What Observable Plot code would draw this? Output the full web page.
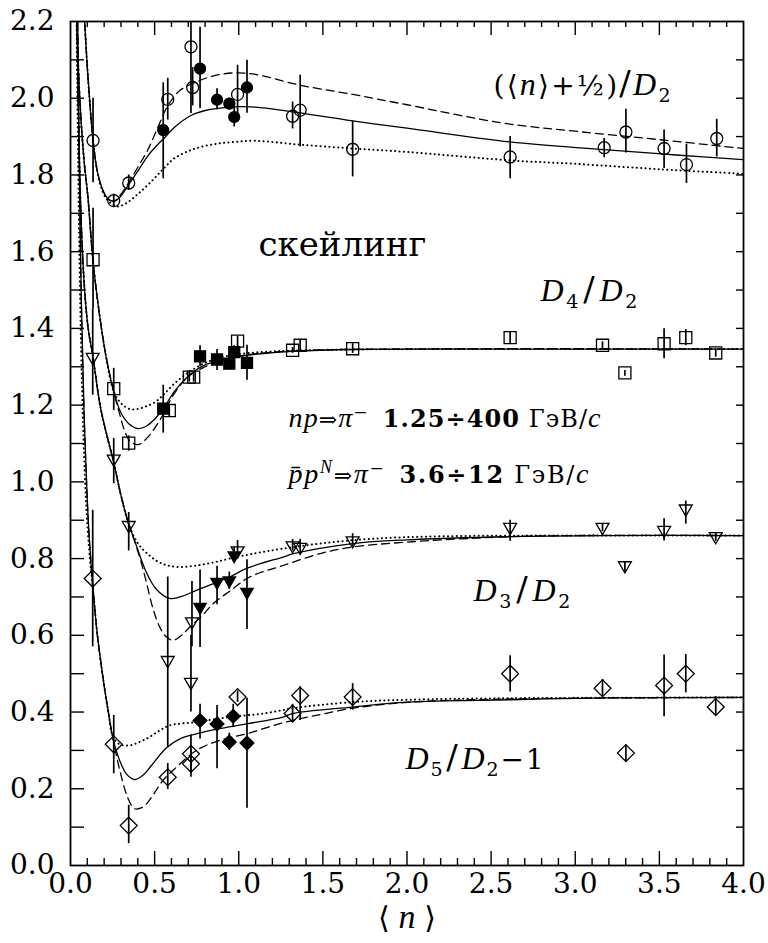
<!DOCTYPE html>
<html>
<head>
<meta charset="utf-8">
<script src="https://cdn.jsdelivr.net/npm/d3@7"></script>
<script src="https://cdn.jsdelivr.net/npm/@observablehq/plot@0.6"></script>
<style>
  body { margin: 0; background: #fff; }
  #chart svg { display: block; }
  #chart svg text { font-family: "DejaVu Serif", serif; }
</style>
</head>
<body>
<div id="chart"></div>
<script>
// Measured ratios versus mean multiplicity <n>: [<n>, value, low, high]
// (<n>+1/2)/D2
const circlesOpen = [
  [0.134, 1.890, 1.780, 2.000], [0.257, 1.733, 1.715, 1.750], [0.346, 1.779, 1.760, 1.800],
  [0.578, 1.997, 1.943, 2.052], [0.716, 2.134, 1.960, 2.300], [0.726, 2.028, 1.980, 2.080],
  [0.993, 2.010, 1.956, 2.086], [1.320, 1.953, 1.920, 1.990], [1.365, 1.969, 1.873, 2.060],
  [1.677, 1.867, 1.795, 1.940], [2.613, 1.847, 1.790, 1.900], [3.172, 1.871, 1.845, 1.895],
  [3.301, 1.912, 1.857, 1.971], [3.528, 1.869, 1.817, 1.917], [3.661, 1.827, 1.778, 1.880],
  [3.841, 1.895, 1.847, 1.945]
];
const circlesFilled = [
  [0.551, 1.917, 1.790, 2.040], [0.770, 2.077, 1.973, 2.185], [0.871, 1.996, 1.970, 2.025],
  [0.944, 1.986, 1.970, 2.000], [0.973, 1.951, 1.925, 1.980], [1.049, 2.028, 1.961, 2.099]
];
// D4/D2
const squaresOpen = [
  [0.134, 1.579, 1.450, 1.713], [0.257, 1.243, 1.186, 1.296], [0.346, 1.101, 1.080, 1.120],
  [0.587, 1.186, 1.170, 1.200], [0.706, 1.273, 1.260, 1.285], [0.732, 1.273, 1.260, 1.285],
  [0.993, 1.367, 1.350, 1.380], [1.320, 1.343, 1.335, 1.350], [1.365, 1.356, 1.340, 1.370],
  [1.677, 1.347, 1.335, 1.360], [2.613, 1.376, 1.360, 1.390], [3.162, 1.356, 1.345, 1.365],
  [3.295, 1.284, 1.275, 1.290], [3.528, 1.360, 1.321, 1.399], [3.657, 1.376, 1.355, 1.397],
  [3.835, 1.336, 1.325, 1.345]
];
const squaresFilled = [
  [0.551, 1.191, 1.127, 1.252], [0.770, 1.327, 1.300, 1.355], [0.871, 1.319, 1.290, 1.345],
  [0.944, 1.308, 1.295, 1.320], [0.973, 1.338, 1.320, 1.355], [1.049, 1.310, 1.265, 1.356]
];
// D3/D2
const trianglesOpen = [
  [0.132, 1.325, 1.226, 1.450], [0.257, 1.060, 0.995, 1.113], [0.346, 0.887, 0.820, 0.920],
  [0.578, 0.535, 0.308, 0.752], [0.722, 0.636, 0.570, 0.740], [0.716, 0.478, 0.400, 0.600],
  [0.993, 0.821, 0.800, 0.847], [1.320, 0.834, 0.820, 0.850], [1.365, 0.830, 0.810, 0.850],
  [1.677, 0.847, 0.830, 0.865], [2.613, 0.882, 0.845, 0.900], [3.162, 0.882, 0.870, 0.890],
  [3.295, 0.782, 0.765, 0.790], [3.528, 0.874, 0.846, 0.904], [3.657, 0.930, 0.890, 0.950],
  [3.835, 0.858, 0.845, 0.868]
];
const trianglesFilled = [
  [0.770, 0.674, 0.568, 0.770], [0.871, 0.739, 0.680, 0.780], [0.944, 0.743, 0.720, 0.765],
  [0.973, 0.808, 0.790, 0.830], [1.049, 0.713, 0.615, 0.797]
];
// D5/D2 - 1
const diamondsOpen = [
  [0.132, 0.748, 0.570, 0.926], [0.257, 0.316, 0.239, 0.391], [0.346, 0.104, 0.057, 0.157],
  [0.578, 0.230, 0.198, 0.266], [0.716, 0.291, 0.240, 0.340], [0.716, 0.265, 0.230, 0.300],
  [0.993, 0.439, 0.425, 0.455], [1.320, 0.396, 0.375, 0.420], [1.365, 0.443, 0.378, 0.466],
  [1.677, 0.439, 0.405, 0.474], [2.613, 0.500, 0.452, 0.547], [3.162, 0.462, 0.440, 0.485],
  [3.301, 0.293, 0.270, 0.315], [3.528, 0.469, 0.388, 0.549], [3.657, 0.500, 0.450, 0.550],
  [3.835, 0.413, 0.390, 0.440]
];
const diamondsFilled = [
  [0.770, 0.378, 0.330, 0.420], [0.871, 0.369, 0.252, 0.417], [0.944, 0.322, 0.300, 0.345],
  [0.967, 0.389, 0.360, 0.420], [1.049, 0.319, 0.149, 0.436]
];

// Model curves: [<n>, value]
const c1Solid = [[0.084,2.20],[0.100,2.08],[0.118,1.97],[0.134,1.89],[0.155,1.82],[0.180,1.775],[0.210,1.745],[0.240,1.733],[0.265,1.732],[0.300,1.745],[0.346,1.775],[0.400,1.81],[0.460,1.85],[0.520,1.88],[0.551,1.893],[0.620,1.925],[0.716,1.955],[0.800,1.968],[0.900,1.975],[1.000,1.978],[1.100,1.977],[1.300,1.966],[1.677,1.941],[2.000,1.922],[2.613,1.886],[3.170,1.866],[3.600,1.852],[4.000,1.840]];
const c1Dashed = [[0.084,2.20],[0.100,2.08],[0.118,1.97],[0.134,1.89],[0.155,1.82],[0.180,1.775],[0.210,1.745],[0.240,1.733],[0.265,1.733],[0.300,1.75],[0.346,1.78],[0.400,1.82],[0.459,1.865],[0.520,1.925],[0.578,1.98],[0.650,2.02],[0.734,2.04],[0.850,2.058],[0.972,2.066],[1.100,2.062],[1.365,2.034],[1.677,2.010],[2.000,1.983],[2.558,1.936],[3.000,1.914],[3.500,1.892],[4.000,1.869]];
const c1Dotted = [[0.084,2.20],[0.100,2.08],[0.118,1.97],[0.134,1.89],[0.155,1.82],[0.180,1.77],[0.210,1.74],[0.240,1.726],[0.280,1.718],[0.330,1.726],[0.400,1.75],[0.478,1.782],[0.550,1.815],[0.616,1.843],[0.700,1.862],[0.775,1.873],[0.880,1.882],[0.972,1.886],[1.100,1.889],[1.365,1.879],[1.677,1.869],[2.000,1.860],[2.613,1.838],[3.000,1.829],[3.500,1.815],[4.000,1.803]];

const c2Solid = [[0.038,2.20],[0.055,2.00],[0.080,1.84],[0.104,1.74],[0.134,1.575],[0.173,1.434],[0.210,1.33],[0.257,1.235],[0.300,1.18],[0.350,1.15],[0.400,1.139],[0.450,1.145],[0.500,1.163],[0.551,1.19],[0.620,1.237],[0.716,1.282],[0.800,1.305],[0.894,1.317],[1.000,1.327],[1.132,1.334],[1.320,1.340],[1.677,1.345],[2.500,1.346],[4.000,1.346]];
const c2Dashed = [[0.038,2.20],[0.055,2.00],[0.080,1.84],[0.104,1.74],[0.134,1.575],[0.173,1.434],[0.210,1.33],[0.257,1.235],[0.290,1.18],[0.320,1.135],[0.350,1.108],[0.400,1.097],[0.450,1.112],[0.530,1.16],[0.617,1.23],[0.696,1.273],[0.800,1.30],[0.900,1.318],[1.000,1.328],[1.200,1.338],[1.600,1.345],[4.000,1.346]];
const c2Dotted = [[0.038,2.20],[0.055,2.00],[0.080,1.84],[0.104,1.74],[0.134,1.575],[0.173,1.434],[0.210,1.33],[0.257,1.235],[0.300,1.205],[0.350,1.19],[0.400,1.19],[0.450,1.197],[0.500,1.207],[0.550,1.226],[0.617,1.256],[0.700,1.285],[0.800,1.31],[0.900,1.325],[1.000,1.333],[1.200,1.34],[1.500,1.344],[2.000,1.346],[4.000,1.346]];

const c3Solid = [[0.038,2.20],[0.050,1.90],[0.065,1.66],[0.084,1.50],[0.105,1.40],[0.134,1.325],[0.180,1.19],[0.257,1.05],[0.300,0.965],[0.346,0.89],[0.381,0.847],[0.450,0.765],[0.510,0.72],[0.589,0.696],[0.650,0.70],[0.748,0.717],[0.850,0.735],[0.946,0.752],[1.050,0.775],[1.263,0.804],[1.320,0.812],[1.677,0.839],[2.000,0.849],[2.613,0.857],[3.200,0.860],[4.000,0.860]];
const c3Dashed = [[0.038,2.20],[0.050,1.90],[0.065,1.66],[0.084,1.50],[0.105,1.40],[0.134,1.325],[0.180,1.19],[0.257,1.05],[0.300,0.965],[0.346,0.89],[0.381,0.845],[0.420,0.79],[0.450,0.74],[0.490,0.67],[0.530,0.622],[0.569,0.596],[0.609,0.587],[0.660,0.60],[0.708,0.621],[0.780,0.65],[0.847,0.682],[0.946,0.715],[1.065,0.752],[1.263,0.782],[1.500,0.815],[1.677,0.83],[2.000,0.843],[2.600,0.857],[3.000,0.860],[4.000,0.860]];
const c3Dotted = [[0.038,2.20],[0.050,1.90],[0.065,1.66],[0.084,1.50],[0.105,1.40],[0.134,1.325],[0.180,1.19],[0.257,1.05],[0.300,0.965],[0.346,0.89],[0.400,0.84],[0.459,0.812],[0.520,0.792],[0.578,0.782],[0.650,0.778],[0.748,0.782],[0.850,0.79],[0.946,0.80],[1.100,0.814],[1.263,0.826],[1.500,0.84],[1.800,0.852],[2.200,0.858],[2.800,0.860],[4.000,0.860]];

const c4Solid = [[0.043,2.20],[0.050,1.90],[0.064,1.48],[0.080,1.19],[0.100,0.95],[0.115,0.83],[0.134,0.72],[0.160,0.60],[0.193,0.49],[0.225,0.40],[0.253,0.33],[0.292,0.274],[0.332,0.239],[0.381,0.224],[0.430,0.235],[0.480,0.26],[0.569,0.306],[0.650,0.33],[0.748,0.343],[0.875,0.356],[1.045,0.369],[1.263,0.387],[1.320,0.396],[1.677,0.413],[2.000,0.426],[2.613,0.432],[3.200,0.437],[4.000,0.438]];
const c4Dashed = [[0.043,2.20],[0.050,1.90],[0.064,1.48],[0.080,1.19],[0.100,0.95],[0.115,0.83],[0.134,0.72],[0.160,0.60],[0.193,0.49],[0.225,0.40],[0.253,0.33],[0.292,0.25],[0.342,0.175],[0.381,0.148],[0.420,0.150],[0.450,0.16],[0.500,0.19],[0.550,0.222],[0.629,0.256],[0.748,0.30],[0.886,0.326],[1.045,0.343],[1.263,0.372],[1.500,0.395],[1.677,0.41],[2.000,0.425],[2.600,0.434],[4.000,0.438]];
const c4Dotted = [[0.036,2.20],[0.045,1.85],[0.057,1.48],[0.072,1.19],[0.092,0.95],[0.115,0.80],[0.134,0.72],[0.160,0.60],[0.193,0.49],[0.225,0.40],[0.253,0.335],[0.292,0.316],[0.352,0.313],[0.410,0.322],[0.470,0.335],[0.530,0.352],[0.589,0.365],[0.748,0.374],[0.946,0.387],[1.144,0.396],[1.263,0.405],[1.320,0.41],[1.677,0.426],[2.000,0.432],[2.600,0.436],[4.000,0.438]];

// Axis tick labels
const xTickLabels = [0.0, 0.5, 1.0, 1.5, 2.0, 2.5, 3.0, 3.5, 4.0];
const yTickLabels = [0.0, 0.2, 0.4, 0.6, 0.8, 1.0, 1.2, 1.4, 1.6, 1.8, 2.0, 2.2];
const xMajorTicks = [0.5, 1.0, 1.5, 2.0, 2.5, 3.0, 3.5];

// ---- layout ----
const W = 768, H = 943;
const mt = 21, mb = 78, ml = 70, mr = 25;
const ph = H - mt - mb, pw = W - ml - mr;
const serif = "DejaVu Serif";
const mathItalic = "Liberation Serif";

const xMinor = d3.range(1, 40).filter(i => i % 5 !== 0).map(i => i / 10);
const yMinor = d3.range(1, 22).map(i => i / 10);

const pts = a => a.map(([x, y, lo, hi]) => ({x, y, lo, hi}));

const lineStyles = {
  solid: {strokeWidth: 1.3},
  dashed: {strokeWidth: 1.3, strokeDasharray: "8,5"},
  dotted: {strokeWidth: 2, strokeDasharray: "0.1,4.3", strokeLinecap: "round"}
};
const curve = (data, style) => Plot.line(data, {
  x: d => d[0], y: d => d[1], curve: "catmull-rom", stroke: "black", clip: true, ...lineStyles[style]
});
const errorBars = a => Plot.ruleX(pts(a), {x: "x", y1: "lo", y2: "hi", stroke: "black", strokeWidth: 1.7, clip: true});
const markers = (a, symbol, r, filled, rotate = 0) => Plot.dot(pts(a), {
  x: "x", y: "y", symbol, r, rotate, stroke: "black", strokeWidth: 1.3,
  fill: filled ? "black" : "none", clip: true
});
const label = (key, x, y, size, anchor = "start") => Plot.text([key], {
  x: () => x, y: () => y, text: d => d, textAnchor: anchor, lineAnchor: "middle",
  fontSize: size, fontFamily: serif, fill: "black"
});

const chart = Plot.plot({
  width: W, height: H,
  marginTop: mt, marginBottom: mb, marginLeft: ml, marginRight: mr,
  x: {domain: [0, 4], axis: null},
  y: {domain: [0, 2.2], axis: null},
  style: {fontFamily: serif, background: "white", color: "black", overflow: "visible"},
  marks: [
    // model curves
    curve(c1Solid, "solid"), curve(c1Dashed, "dashed"), curve(c1Dotted, "dotted"),
    curve(c2Solid, "solid"), curve(c2Dashed, "dashed"), curve(c2Dotted, "dotted"),
    curve(c3Solid, "solid"), curve(c3Dashed, "dashed"), curve(c3Dotted, "dotted"),
    curve(c4Solid, "solid"), curve(c4Dashed, "dashed"), curve(c4Dotted, "dotted"),
    // error bars
    errorBars(circlesOpen), errorBars(circlesFilled),
    errorBars(squaresOpen), errorBars(squaresFilled),
    errorBars(trianglesOpen), errorBars(trianglesFilled),
    errorBars(diamondsOpen), errorBars(diamondsFilled),
    // points
    markers(circlesOpen, "circle", 6, false),
    markers(circlesFilled, "circle", 5.5, true),
    markers(squaresOpen, "square", 6.8, false),
    markers(squaresFilled, "square", 6.2, true),
    markers(trianglesOpen, "triangle", 4.8, false, 180),
    markers(trianglesFilled, "triangle", 4.6, true, 180),
    markers(diamondsOpen, "diamond2", 7.6, false),
    markers(diamondsFilled, "diamond2", 6.2, true),
    // inward ticks: bottom, top, left, right
    Plot.tickX(xMinor, {x: d => d, insetTop: ph - 7, strokeWidth: 1.4}),
    Plot.tickX(xMajorTicks, {x: d => d, insetTop: ph - 14, strokeWidth: 1.4}),
    Plot.tickX(xMinor, {x: d => d, insetBottom: ph - 6, strokeWidth: 1.4}),
    Plot.tickX(xMajorTicks, {x: d => d, insetBottom: ph - 14, strokeWidth: 1.4}),
    Plot.tickY(yMinor, {y: d => d, insetRight: pw - 14, strokeWidth: 1.4}),
    Plot.tickY(yMinor, {y: d => d, insetLeft: pw - 7, strokeWidth: 1.4}),
    Plot.frame({stroke: "black", strokeWidth: 1.8}),
    // tick labels
    Plot.text(xTickLabels, {x: d => d, frameAnchor: "bottom", dy: 27, text: d => d.toFixed(1), fontSize: 28, fontFamily: serif, fill: "black"}),
    Plot.text(yTickLabels, {y: d => d, frameAnchor: "left", dx: -16, textAnchor: "end", text: d => d.toFixed(1), fontSize: 28, fontFamily: serif, fill: "black"}),
    // axis title
    Plot.text(["<n>"], {x: () => 2.0, frameAnchor: "bottom", dy: 62, text: d => d, textAnchor: "middle", fontSize: 30, fontFamily: serif, fill: "black"}),
    // annotations
    label("(<n>+1/2)/D2", 2.514, 2.033, 28),
    label("скейлинг", 1.117, 1.618, 34),
    label("D4/D2", 2.793, 1.496, 28),
    label("np=>pi- 1.25÷400 ГэВ/c", 1.296, 1.162, 24),
    label("ppN=>pi- 3.6÷12 ГэВ/c", 1.296, 1.016, 24),
    label("D3/D2", 2.395, 0.712, 28),
    label("D5/D2-1", 1.991, 0.276, 28)
  ]
});

document.getElementById("chart").appendChild(chart);

// Typeset the math labels with italics, sub- and superscripts.
const svgNS = "http://www.w3.org/2000/svg";
function rich(key, parts, width) {
  const el = Array.from(chart.querySelectorAll("text")).find(t => t.textContent === key);
  if (!el) return;
  el.textContent = "";
  let shift = 0;
  for (const p of parts) {
    const ts = document.createElementNS(svgNS, "tspan");
    ts.textContent = p.t;
    const target = p.sub ? p.sub : p.sup ? -p.sup : 0;
    if (target !== shift) { ts.setAttribute("dy", target - shift); shift = target; }
    if (p.it) {
      ts.setAttribute("font-style", "italic");
      ts.style.fontFamily = `"${mathItalic}", serif`;
    }
    if (p.fs) ts.setAttribute("font-size", p.fs);
    if (p.b) ts.setAttribute("font-weight", "bold");
    if (p.dx) ts.setAttribute("dx", p.dx);
    el.appendChild(ts);
  }
  if (width) {
    el.setAttribute("textLength", width);
    el.setAttribute("lengthAdjust", "spacing");
  }
}
const ratio = (k) => [
  {t: "D", it: 1, fs: 32}, {t: k, sub: 7, fs: 19}, {t: "/", fs: 34, dx: 2}, {t: "D", it: 1, fs: 32, dx: 2}, {t: "2", sub: 7, fs: 19}
];
rich("<n>", [{t: "⟨"}, {t: "n", it: 1, fs: 34}, {t: "⟩"}], 58);
rich("(<n>+1/2)/D2", [
  {t: "("}, {t: "⟨"}, {t: "n", it: 1, fs: 32}, {t: "⟩+"}, {t: "½"}, {t: ")"}, {t: "/", fs: 34},
  {t: "D", it: 1, fs: 32}, {t: "2", sub: 7, fs: 19}
], 177);
rich("D4/D2", ratio("4"), 97);
rich("D3/D2", ratio("3"), 97);
rich("D5/D2-1", [...ratio("5"), {t: "−1"}], 138);
rich("np=>pi- 1.25÷400 ГэВ/c", [
  {t: "np", it: 1, fs: 28}, {t: "⇒", fs: 22}, {t: "π", it: 1, fs: 28}, {t: "−", sup: 9, fs: 17},
  {t: "1.25÷400", b: 1, dx: 14}, {t: " ГэВ/"}, {t: "c", it: 1, fs: 28}
], 312);
rich("ppN=>pi- 3.6÷12 ГэВ/c", [
  {t: "p\u0304", it: 1, fs: 28}, {t: "p", it: 1, fs: 28}, {t: "N", it: 1, sup: 10, fs: 18}, {t: "⇒", fs: 22},
  {t: "π", it: 1, fs: 28}, {t: "−", sup: 9, fs: 17},
  {t: "3.6÷12", b: 1, dx: 14}, {t: " ГэВ/"}, {t: "c", it: 1, fs: 28}
], 300);
</script>
</body>
</html>
